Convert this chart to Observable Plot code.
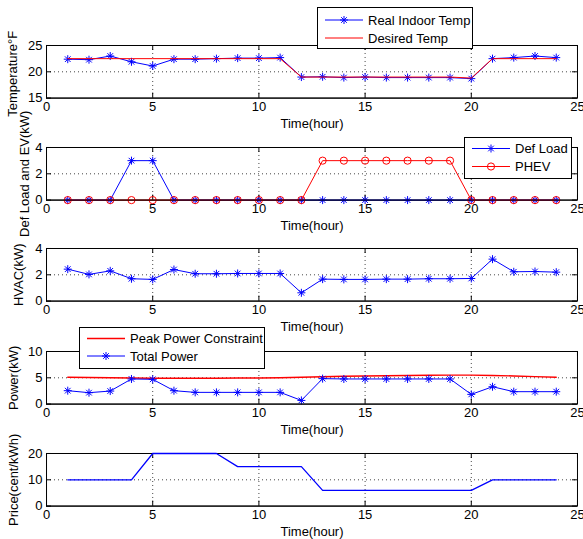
<!DOCTYPE html>
<html><head><meta charset="utf-8">
<script src="https://cdn.jsdelivr.net/npm/d3@7"></script>
<script src="https://cdn.jsdelivr.net/npm/@observablehq/plot@0.6"></script>
<style>
html,body{margin:0;padding:0;background:#fff;overflow:hidden}
#chart{position:relative;width:583px;height:539px;overflow:hidden;font-family:"Liberation Sans",Arial,sans-serif}
#chart > svg{position:absolute;left:0}
</style></head><body><div id="chart"></div>
<script>
// ---- data ----
const hours = [1,2,3,4,5,6,7,8,9,10,11,12,13,14,15,16,17,18,19,20,21,22,23,24];
const realTemp = [22.4,22.3,23.0,21.9,21.1,22.4,22.4,22.5,22.6,22.6,22.7,19.0,19.05,18.9,19.0,18.9,18.9,18.9,18.9,18.7,22.5,22.7,23.0,22.7];
const desiredTemp = [22.5,22.5,22.5,22.5,22.5,22.5,22.5,22.5,22.5,22.5,22.5,19.0,19.0,19.0,19.0,19.0,19.0,19.0,19.0,18.8,22.5,22.5,22.5,22.5];
const defLoad = [0,0,0,3,3,0,0,0,0,0,0,0,0,0,0,0,0,0,0,0,0,0,0,0];
const phev = [0,0,0,0,0,0,0,0,0,0,0,0,3,3,3,3,3,3,3,0,0,0,0,0];
const hvac = [2.43,2.03,2.30,1.70,1.65,2.40,2.08,2.08,2.10,2.10,2.10,0.63,1.67,1.65,1.65,1.67,1.67,1.70,1.70,1.72,3.19,2.23,2.25,2.20];
const peakPower = [5.1,5.05,5.0,4.95,4.9,4.9,4.9,4.9,4.95,4.97,5.0,5.1,5.2,5.28,5.35,5.4,5.45,5.48,5.5,5.5,5.45,5.35,5.22,5.1];
const totalPower = [2.55,2.17,2.48,4.78,4.71,2.55,2.23,2.23,2.23,2.23,2.23,0.70,4.84,4.78,4.78,4.78,4.78,4.78,4.78,1.85,3.30,2.36,2.36,2.36];
const price = [10,10,10,10,20,20,20,20,15,15,15,15,6,6,6,6,6,6,6,6,10,10,10,10];

const xTicks = [0,5,10,15,20,25];
const xLabel = "Time(hour)";
const tempTicks = [15,20,25];
const defTicks = [0,2,4];
const hvacTicks = [0,2,4];
const powerTicks = [0,5,10];
const priceTicks = [0,10,20];

// ---- layout ----
const W = 583, ML = 46, MR = 6, PH = 52.6, MT = 10, MB = 36;
const BLUE = "#0000ff", RED = "#ff0000";
const FONT = "'Liberation Sans', Arial, sans-serif";

const star = {
  draw(ctx, size) {
    const r = Math.sqrt(size / Math.PI), d = r * Math.SQRT1_2;
    ctx.moveTo(-r, 0); ctx.lineTo(r, 0);
    ctx.moveTo(0, -r); ctx.lineTo(0, r);
    ctx.moveTo(-d, -d); ctx.lineTo(d, d);
    ctx.moveTo(-d, d); ctx.lineTo(d, -d);
  }
};

const rows = (ys) => hours.map((h, i) => ({h, v: ys[i]}));
const lineOf = (ys, color, sw = 1) => Plot.line(rows(ys), {x: "h", y: "v", stroke: color, strokeWidth: sw});
const starsOf = (ys, color) => Plot.dot(rows(ys), {x: "h", y: "v", symbol: star, r: 4, stroke: color, strokeWidth: 1, fill: "none"});
const circlesOf = (ys, color) => Plot.dot(rows(ys), {x: "h", y: "v", symbol: "circle", r: 3.6, stroke: color, strokeWidth: 1, fill: "none"});

const chart = document.getElementById("chart");

function panel({top, yDomain, yTicks, yLabel, labelX, labelDy = 0, marks, mb = MB}) {
  const pw = W - ML - MR;
  const tk = 5;
  const p = Plot.plot({
    width: W, height: MT + PH + mb,
    marginLeft: ML, marginRight: MR, marginTop: MT, marginBottom: mb,
    x: {domain: [0, 25], axis: null},
    y: {domain: yDomain, axis: null},
    style: {fontFamily: FONT, fontSize: "13px", background: "transparent", overflow: "visible", color: "black"},
    marks: [
      Plot.ruleX(xTicks.slice(1, -1), {x: d => d, stroke: "#444", strokeDasharray: "1,3"}),
      Plot.ruleY(yTicks.slice(1, -1), {y: d => d, stroke: "#444", strokeDasharray: "1,3"}),
      Plot.frame({stroke: "black", strokeWidth: 1}),
      Plot.ruleX(xTicks, {x: d => d, insetTop: PH - tk, stroke: "black"}),
      Plot.ruleX(xTicks, {x: d => d, insetBottom: PH - tk, stroke: "black"}),
      Plot.ruleY(yTicks, {y: d => d, insetRight: pw - tk, stroke: "black"}),
      Plot.ruleY(yTicks, {y: d => d, insetLeft: pw - tk, stroke: "black"}),
      ...marks,
      Plot.ruleY([yDomain[0]], {y: d => d, stroke: "black"}),
      Plot.axisX({ticks: xTicks, tickSize: 0, tickPadding: 4, label: null, anchor: "bottom", fontSize: 13, tickFormat: d => String(d)}),
      Plot.axisY({ticks: yTicks, tickSize: 0, tickPadding: 4, label: null, anchor: "left", fontSize: 13, tickFormat: d => String(d)}),
      Plot.text([xLabel], {text: d => d, frameAnchor: "bottom", dy: 21, lineAnchor: "top", fontSize: 13}),
      Plot.text([yLabel], {text: d => d, frameAnchor: "left", rotate: -90, dx: labelX - ML, dy: labelDy,
        textAnchor: "middle", lineAnchor: "middle", fontSize: 13})
    ]
  });
  p.style.top = (top - MT) + "px";
  chart.appendChild(p);
}

function legend({left, top, width, height, items}) {
  const svg = d3.create("svg").attr("width", width).attr("height", height)
    .style("position", "absolute").style("left", left + "px").style("top", top + "px");
  svg.append("rect").attr("x", 0.5).attr("y", 0.5).attr("width", width - 1).attr("height", height - 1)
    .attr("fill", "white").attr("stroke", "black");
  for (const it of items) {
    const g = svg.append("g");
    g.append("line").attr("x1", 8).attr("x2", 46).attr("y1", it.y).attr("y2", it.y).attr("stroke", it.color).attr("stroke-width", it.sw || 1);
    if (it.symbol === "star") {
      g.append("path").attr("transform", `translate(27,${it.y})`)
        .attr("d", d3.symbol(star, 16 * Math.PI)()).attr("stroke", it.color).attr("fill", "none");
    } else if (it.symbol === "circle") {
      g.append("circle").attr("cx", 27).attr("cy", it.y).attr("r", 3.6).attr("stroke", it.color).attr("fill", "none");
    }
    g.append("text").attr("x", 51).attr("y", it.y).attr("dy", "0.35em")
      .attr("font-family", FONT).attr("font-size", 13).attr("fill", "black").text(it.label);
  }
  chart.appendChild(svg.node());
}

panel({top: 45, yDomain: [15, 25], yTicks: tempTicks, yLabel: "Temperature°F", labelX: 12.8, labelDy: 2,
  marks: [lineOf(realTemp, BLUE), starsOf(realTemp, BLUE), lineOf(desiredTemp, RED)]});
panel({top: 146.7, yDomain: [0, 4], yTicks: defTicks, yLabel: "Def Load and EV(kW)", labelX: 24.8,
  marks: [lineOf(defLoad, BLUE), starsOf(defLoad, BLUE), lineOf(phev, RED), circlesOf(phev, RED)]});
panel({top: 248.3, yDomain: [0, 4], yTicks: hvacTicks, yLabel: "HVAC(kW)", labelX: 18.8,
  marks: [lineOf(hvac, BLUE), starsOf(hvac, BLUE)]});
panel({top: 351, yDomain: [0, 10], yTicks: powerTicks, yLabel: "Power(kW)", labelX: 13.8,
  marks: [lineOf(peakPower, RED, 1.4), lineOf(totalPower, BLUE), starsOf(totalPower, BLUE)]});
panel({top: 452.7, yDomain: [0, 20], yTicks: priceTicks, yLabel: "Price(cent/kWh)", labelX: 13.8, mb: 34,
  marks: [lineOf(price, BLUE, 1.3)]});

legend({left: 317, top: 7, width: 156, height: 42, items: [
  {label: "Real Indoor Temp", color: BLUE, symbol: "star", y: 13},
  {label: "Desired Temp", color: RED, symbol: null, y: 31}
]});
legend({left: 464, top: 137, width: 108, height: 42, items: [
  {label: "Def Load", color: BLUE, symbol: "star", y: 11.5},
  {label: "PHEV", color: RED, symbol: "circle", y: 29.5}
]});
legend({left: 79, top: 327, width: 186, height: 42, items: [
  {label: "Peak Power Constraint", color: RED, symbol: null, y: 11.5, sw: 1.4},
  {label: "Total Power", color: BLUE, symbol: "star", y: 29}
]});
</script></body></html>
